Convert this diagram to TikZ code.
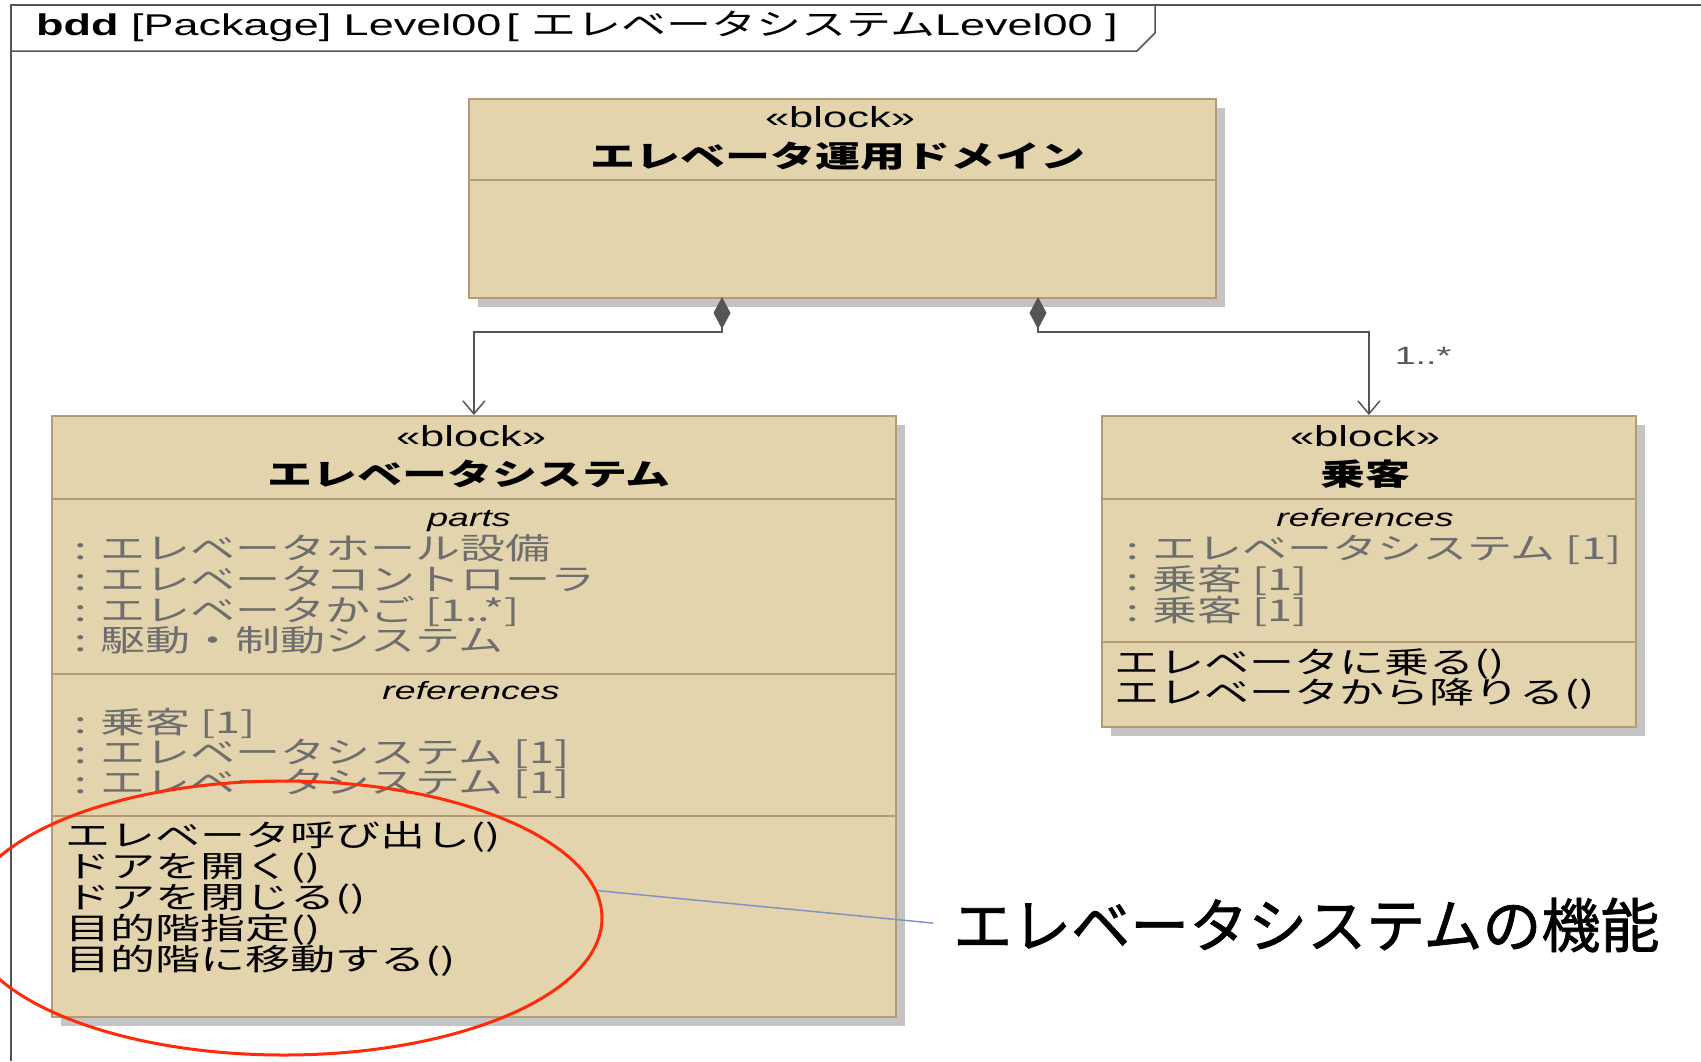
\documentclass[tikz,border=0pt]{standalone}
\usepackage{fontspec}
\setmainfont{Liberation Sans}[FakeStretch=1.5]
\newfontfamily\jp{Noto Sans CJK JP}[FakeStretch=1.5]
\newfontfamily\jpbig{Noto Sans CJK JP}[FakeBold=1.2]
\usetikzlibrary{shapes.geometric,shadows,arrows.meta}
\definecolor{blkfill}{HTML}{E3D4AD}
\definecolor{blkline}{HTML}{B39B78}
\definecolor{shade}{HTML}{C4C4C4}
\definecolor{propgray}{HTML}{6E6E6E}
\definecolor{conn}{HTML}{555555}
\definecolor{hlred}{HTML}{FF2A0A}
\definecolor{hlblue}{HTML}{8193C4}
\newcommand\jpn{\jp\fontsize{30}{36}\selectfont}
\newcommand\jpb{\jp\bfseries\fontsize{30}{36}\selectfont}
\tikzset{
  frame/.style={draw=conn, line width=1.5pt},
  blk/.style={draw=blkline, line width=1.8pt, fill=blkfill, inner sep=0, anchor=north west,
    drop shadow={shadow xshift=9pt, shadow yshift=-9pt, fill=shade, opacity=1}},
  sep/.style={draw=blkline, line width=1.3pt},
  stereo/.style={inner sep=0, font=\fontsize{29}{32}\selectfont},
  ttl/.style={inner sep=0, font=\jpb, text height=24pt, text depth=4pt},
  sect/.style={inner sep=0, font=\itshape\fontsize{25}{28}\selectfont, text height=18pt, text depth=4pt},
  prop/.style={inner sep=0, anchor=west, text=propgray, font=\jpn, text height=22pt, text depth=4pt},
  oper/.style={inner sep=0, anchor=west, text=black, font=\jpn, text height=22pt, text depth=4pt},
  comp/.style={draw=conn, line width=1.5pt,
    {Diamond[length=32pt,width=17pt,fill=conn]}-{Straight Barb[length=13pt,width=22pt]}},
  hl/.style={ellipse, draw=hlred, line width=3pt, inner sep=0},
}
\begin{document}
\begin{tikzpicture}[x=1pt,y=-1pt]
\fill[white] (0,0) rectangle (1701,1061);
\useasboundingbox (0,0) rectangle (1701,1061);

% frame and header tab
\draw[frame] (1701,5) -- (11,5) -- (11,1061);
\draw[frame] (11,51) -- (1137,51) -- (1155,33) -- (1155,5);
\node[inner sep=0, anchor=base west, font=\fontsize{30}{34}\selectfont] (hdr) at (36,35)
  {\textbf{bdd} [Package] Level00\,[ {\jp エレベータシステム}Level00 ]};

% top block
\node[blk, minimum width=747pt, minimum height=199pt] (top) at (468,98) {};
\draw[sep] (468,180) -- (1215,180);
\node[stereo] (topst) at (840,117) {«block»};
\node[ttl] (toptl) at (838,157) {エレベータ運用ドメイン};

% elevator system block
\node[blk, minimum width=844pt, minimum height=601pt] (sys) at (51,415) {};
\draw[sep] (51,499) -- (895,499);
\draw[sep] (51,674) -- (895,674);
\draw[sep] (51,816) -- (895,816);
\node[stereo] (sysst) at (471,436) {«block»};
\node[ttl] (systl) at (469,475) {エレベータシステム};
\node[sect] (sysparts) at (469,519) {parts};
\node[prop] (p1) at (74,550) {: エレベータホール設備};
\node[prop] (p2) at (74,581) {: エレベータコントローラ};
\node[prop] (p3) at (74,612) {: エレベータかご [1..*]};
\node[prop] (p4) at (74,642) {: 駆動・制動システム};
\node[sect] (sysrefs) at (471,692) {references};
\node[prop] (r1) at (74,724) {: 乗客 [1]};
\node[prop] (r2) at (74,754) {: エレベータシステム [1]};
\node[prop] (r3) at (74,784) {: エレベータシステム [1]};
\node[oper] (o1) at (65,837) {エレベータ呼び出し()};
\node[oper] (o2) at (65,868) {ドアを開く()};
\node[oper] (o3) at (65,899) {ドアを閉じる()};
\node[oper] (o4) at (65,930) {目的階指定()};
\node[oper] (o5) at (65,961) {目的階に移動する()};

% passenger block
\node[blk, minimum width=534pt, minimum height=311pt] (pax) at (1101,415) {};
\draw[sep] (1101,499) -- (1635,499);
\draw[sep] (1101,642) -- (1635,642);
\node[stereo] (paxst) at (1365,436) {«block»};
\node[ttl] (paxtl) at (1365,475) {乗客};
\node[sect] (paxrefs) at (1365,519) {references};
\node[prop] (q1) at (1126,550) {: エレベータシステム [1]};
\node[prop] (q2) at (1126,581) {: 乗客 [1]};
\node[prop] (q3) at (1126,612) {: 乗客 [1]};
\node[oper] (u1) at (1114,664) {エレベータに乗る()};
\node[oper] (u2) at (1114,694) {エレベータから降りる()};

% composition connectors
\coordinate (dL) at (722,297);
\coordinate (dR) at (1038,297);
\draw[comp] (dL) -- ++(0,35) -| (sys.north);
\draw[comp] (dR) -- ++(0,35) -| (pax.north);
\node[inner sep=0, font=\fontsize{25}{28}\selectfont, text=conn] (mult) at (1423,356) {1..*};

% highlight
\node[hl, minimum width=636pt, minimum height=274pt] (hlell) at (284,918) {};
\node[inner sep=0, anchor=west, font=\jpbig\fontsize{59}{64}\selectfont] (lbl) at (953,925) {エレベータシステムの機能};
\draw[draw=hlblue, line width=1.5pt, shorten >=20pt] (hlell.5) -- (lbl.west);
\end{tikzpicture}
\end{document}
